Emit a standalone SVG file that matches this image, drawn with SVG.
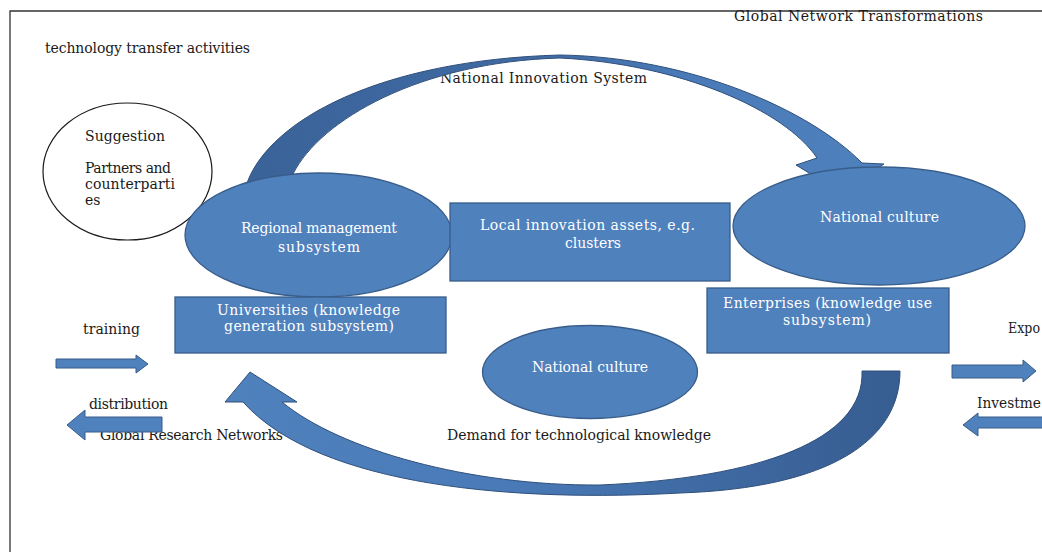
<svg xmlns="http://www.w3.org/2000/svg" width="1042" height="552" viewBox="0 0 1042 552">
<defs>
<style>
.t{font-family:"DejaVu Serif","Liberation Serif",serif;font-size:14px;fill:#1a1a1a}
.w{font-family:"DejaVu Serif","Liberation Serif",serif;font-size:14px;fill:#ffffff}
.shape{fill:#4f81bd;stroke:#385d8a;stroke-width:1.3}
.blk{fill:#4f81bd;stroke:#385d8a;stroke-width:1}
.frame{fill:none;stroke:#333333;stroke-width:1.3}
</style>
<linearGradient id="gTop" gradientUnits="userSpaceOnUse" x1="250" y1="0" x2="880" y2="0">
<stop offset="0" stop-color="#3a6399"/>
<stop offset="0.45" stop-color="#3f6aa3"/>
<stop offset="0.7" stop-color="#4a7bb8"/>
<stop offset="1" stop-color="#4f81bd"/>
</linearGradient>
<linearGradient id="gBot" gradientUnits="userSpaceOnUse" x1="900" y1="0" x2="230" y2="0">
<stop offset="0" stop-color="#375d91"/>
<stop offset="0.3" stop-color="#3f6aa3"/>
<stop offset="0.6" stop-color="#4a7bb8"/>
<stop offset="1" stop-color="#4f81bd"/>
</linearGradient>
</defs>
<rect x="0" y="0" width="1042" height="552" fill="#ffffff"/>
<path class="frame" d="M10,552 L10,11 L1042,11"/>

<g id="labels">
<text class="t" x="45" y="53" textLength="205">technology transfer activities</text>
<text class="t" x="734" y="21" textLength="249">Global Network Transformations</text>
<text class="t" x="440" y="83" textLength="207">National Innovation System</text>
<text class="t" x="83" y="334" textLength="57">training</text>
<text class="t" x="89" y="409" textLength="79">distribution</text>
<text class="t" x="100" y="440" textLength="183">Global Research Networks</text>
<text class="t" x="447" y="440" textLength="264">Demand for technological knowledge</text>
<text class="t" x="1008" y="333" textLength="32" lengthAdjust="spacingAndGlyphs">Expo</text>
<text class="t" x="977" y="408" textLength="64" lengthAdjust="spacingAndGlyphs">Investme</text>
</g>

<g id="connectors">
<path fill="url(#gTop)" stroke="#2f4f7a" stroke-width="1" d="M247,183 C270,120 380,60 560,55 C690,57 810,110 862,163 L884,164 L840,192 L796,165 L817,158 C785,110 680,64 560,58 C420,62 320,120 293,174 Z"/>
<path fill="url(#gBot)" stroke="#2f4f7a" stroke-width="1" d="M900,371 C900,440 830,488 680,493 C520,502 320,488 243,402 L225,402 L250,372 L297,402 L282,402 C340,450 470,486 600,485 C760,478 865,440 862,371 Z"/>
<path class="blk" d="M56,359 L136,359 L136,355 L148,364 L136,373 L136,368 L56,368 Z"/>
<path class="blk" d="M162,417 L85,417 L85,410 L67,425 L85,440 L85,432 L162,432 Z"/>
<path class="blk" d="M952,365 L1023,365 L1023,360 L1036,371 L1023,382 L1023,378 L952,378 Z"/>
<path class="blk" d="M1044,417 L978,417 L978,413 L963,425 L978,436 L978,428 L1044,428 Z"/>
</g>

<g id="suggestion">
<ellipse cx="127.5" cy="171.5" rx="84.5" ry="68.5" fill="#ffffff" stroke="#1a1a1a" stroke-width="1.2"/>
<text class="t" x="85" y="141" textLength="80">Suggestion</text>
<text class="t" x="85" y="173" textLength="86">Partners and</text>
<text class="t" x="85" y="189" textLength="90">counterparti</text>
<text class="t" x="85" y="205">es</text>
</g>

<g id="regional">
<ellipse class="shape" cx="318.5" cy="235" rx="133.5" ry="62"/>
<text class="w" x="241" y="233" textLength="156">Regional management</text>
<text class="w" x="278" y="252" textLength="82">subsystem</text>
</g>

<g id="local">
<rect class="shape" x="450" y="203" width="280" height="78"/>
<text class="w" x="480" y="230" textLength="215">Local innovation assets, e.g.</text>
<text class="w" x="565" y="248" textLength="56">clusters</text>
</g>

<g id="national-right">
<ellipse class="shape" cx="879" cy="226" rx="146" ry="59"/>
<text class="w" x="820" y="222" textLength="119">National culture</text>
</g>

<g id="universities">
<rect class="shape" x="175" y="297" width="271" height="56"/>
<text class="w" x="217" y="315" textLength="183">Universities (knowledge</text>
<text class="w" x="224" y="331" textLength="170">generation subsystem)</text>
</g>

<g id="enterprises">
<rect class="shape" x="707" y="288" width="242" height="65"/>
<text class="w" x="723" y="308" textLength="209">Enterprises (knowledge use</text>
<text class="w" x="783" y="325" textLength="88">subsystem)</text>
</g>

<g id="national-center">
<ellipse class="shape" cx="590" cy="372" rx="107.5" ry="46.5"/>
<text class="w" x="532" y="372" textLength="116">National culture</text>
</g>
</svg>
